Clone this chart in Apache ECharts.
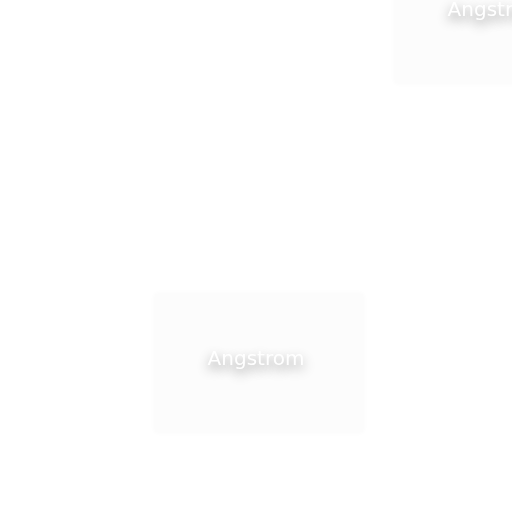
<!DOCTYPE html>
<html>
<head>
<meta charset="utf-8" />
<script src="https://cdn.jsdelivr.net/npm/echarts@6/dist/echarts.min.js"></script>
<style>html,body{margin:0;padding:0;background:#fff}</style>
</head>
<body>
<div id="main" style="width:512px;height:512px;"></div>
<script>
var names = ['Angstrom', 'Angstrom'];
var xs = [259, 499];
var ys = [149, 498];

var chart = echarts.init(document.getElementById('main'));
chart.setOption({
	animation: false,
	grid: { left: 0, right: 0, top: 0, bottom: 0 },
	xAxis: { type: 'value', min: 0, max: 512, show: false },
	yAxis: { type: 'value', min: 0, max: 512, show: false },
	series: [{
		type: 'scatter',
		symbol: 'rect',
		symbolSize: [208, 138],
		itemStyle: { color: '#fcfcfc', opacity: 1, shadowColor: 'rgba(0,0,0,0.03)', shadowBlur: 6 },
		label: {
			show: true,
			position: 'inside',
			offset: [-3, -3],
			formatter: '{b}',
			color: '#fff',
			fontSize: 20,
			fontFamily: 'DejaVu Sans',
			textShadowColor: 'rgba(0,0,0,0.45)',
			textShadowBlur: 12,
			textShadowOffsetY: 5
		},
		data: names.map(function (n, i) { return { name: n, value: [xs[i], ys[i]] }; })
	}]
});
</script>
</body>
</html>
